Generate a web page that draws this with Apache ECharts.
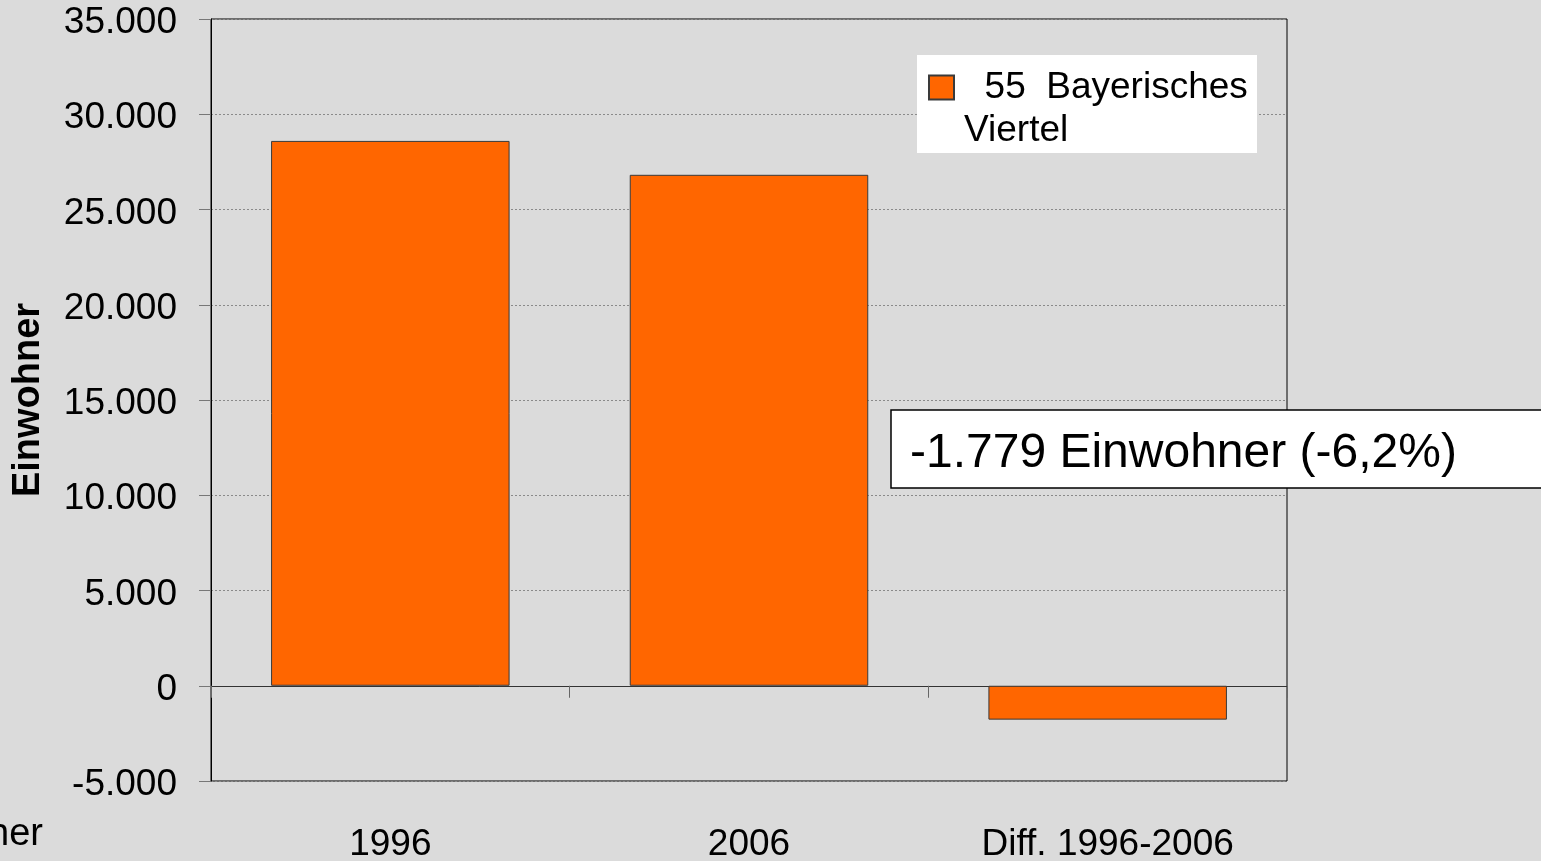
<!DOCTYPE html>
<html>
<head>
<meta charset="utf-8">
<script src="https://cdn.jsdelivr.net/npm/echarts@6/dist/echarts.min.js"></script>
<style>
  html, body { margin: 0; padding: 0; background: #dbdbdb; }
  #chart { width: 1541px; height: 861px; }
</style>
</head>
<body>
<div id="chart"></div>
<script>
// data
const categories = ['1996', '2006', 'Diff. 1996-2006']
const einwohner = [28600, 26821, -1779]
const seriesName = '55  Bayerisches Viertel'
const yTicks = { min: -5000, max: 35000, interval: 5000 }

const FONT = '"Liberation Sans", Arial, sans-serif'

// 12345 -> "12.345"
function deNumber(v) {
  const s = String(Math.abs(Math.round(v))).replace(/\B(?=(\d{3})+(?!\d))/g, '.')
  return (v < 0 ? '-' : '') + s
}

const diff = einwohner[2]
const pct = (diff / einwohner[0] * 100).toFixed(1).replace('.', ',')
const noteText = `${deNumber(diff)} Einwohner (${pct}%)`

const chart = echarts.init(document.getElementById('chart'))

chart.setOption({
  backgroundColor: '#dbdbdb',
  animation: false,
  textStyle: { fontFamily: FONT },
  grid: {
    left: 211,
    right: 254,
    top: 19,
    bottom: 80,
    outerBoundsMode: 'none',
    containLabel: false,
    show: true,
    borderColor: '#000',
    borderWidth: 1,
    backgroundColor: 'transparent',
  },
  legend: {
    left: 928,
    top: 20,
    padding: 0,
    data: [seriesName],
    icon: 'rect',
    itemWidth: 25,
    itemHeight: 24,
    formatter: () => ' \n  55  Bayerisches\nViertel',
    textStyle: {
      fontSize: 37,
      lineHeight: 43,
      color: '#000',
      fontFamily: FONT,
      padding: [6, 0, 0, 5],
    },
    z: 5,
  },
  xAxis: [
    {
      type: 'category',
      data: categories,
      axisLine: { onZero: true, lineStyle: { color: '#333', width: 1 } },
      axisTick: { show: true, length: 12, lineStyle: { color: '#666', width: 1 } },
      axisLabel: { show: false },
      splitLine: { show: false },
    },
    {
      type: 'category',
      data: categories,
      position: 'bottom',
      axisLine: { show: false },
      axisTick: { show: false },
      axisLabel: { margin: 45, fontSize: 37, color: '#000', fontFamily: FONT },
    },
  ],
  yAxis: {
    type: 'value',
    min: yTicks.min,
    max: yTicks.max,
    interval: yTicks.interval,
    name: 'Einwohner',
    nameLocation: 'middle',
    nameGap: 163,
    nameTextStyle: { fontSize: 38, fontWeight: 'bold', color: '#000', fontFamily: FONT },
    axisLine: { show: true, lineStyle: { color: '#000', width: 1 } },
    axisTick: { show: true, length: 12, lineStyle: { color: '#777', width: 1 } },
    axisLabel: {
      margin: 34,
      color: '#000',
      fontFamily: FONT,
      formatter: (v) => `{v|${deNumber(v)}}`,
      rich: {
        v: { fontSize: 37, fontFamily: FONT, color: '#000', padding: [8, 0, 0, 0] },
      },
    },
    splitLine: { show: true, lineStyle: { color: '#8a8a8a', width: 1, type: [2, 2] } },
  },
  series: [
    {
      name: seriesName,
      type: 'bar',
      xAxisIndex: 0,
      barWidth: '66.5%',
      data: einwohner,
      itemStyle: { color: '#ff6600', borderColor: '#3a3a3a', borderWidth: 1 },
    },
  ],
  graphic: [
    // white legend box
    {
      type: 'rect',
      z: 3,
      shape: { x: 917, y: 55, width: 340, height: 98 },
      style: { fill: '#fff' },
    },
    // annotation box
    {
      type: 'rect',
      z: 6,
      shape: { x: 891, y: 410, width: 700, height: 78 },
      style: { fill: '#fff', stroke: '#000', lineWidth: 1.5 },
    },
    {
      type: 'text',
      z: 7,
      x: 910,
      y: 454,
      style: {
        text: noteText,
        fontSize: 48,
        fontFamily: FONT,
        fill: '#000',
        verticalAlign: 'middle',
      },
    },
    // cut-off text at the lower left edge
    {
      type: 'text',
      z: 7,
      x: 43,
      y: 835,
      style: {
        text: 'Einwohner',
        fontSize: 38,
        fontFamily: FONT,
        fill: '#000',
        align: 'right',
        verticalAlign: 'middle',
      },
    },
  ],
})
</script>
</body>
</html>
